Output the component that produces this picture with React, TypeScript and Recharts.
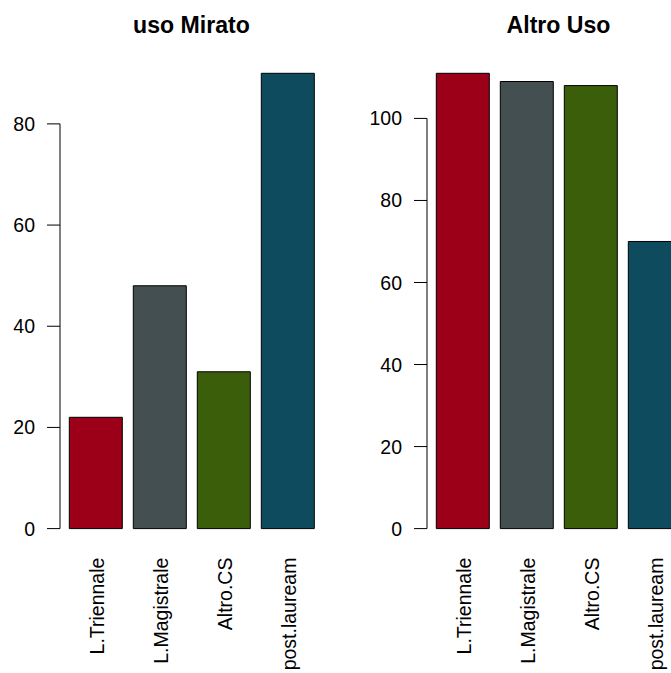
import { BarChart, Bar, XAxis, YAxis, Cell } from 'recharts'

const categories = ['L.Triennale', 'L.Magistrale', 'Altro.CS', 'post.lauream']
const usoMirato = [22, 48, 31, 90]
const altroUso = [111, 109, 108, 70]
const usoMiratoTicks = [0, 20, 40, 60, 80]
const altroUsoTicks = [0, 20, 40, 60, 80, 100]
const barColors = ['#9C0018', '#444F51', '#3B5E0B', '#0F4B5E']

const FONT = '"Liberation Sans", Arial, Helvetica, sans-serif'
const CHART_W = 335
const CHART_H = 673
const TOP = 73.3
const X_AXIS_H = 144.4
const PLOT_BOTTOM = CHART_H - X_AXIS_H
const AXIS_GAP = 4
const FS = 19.5

const buildRows = (values: number[]) =>
  categories.map((name, i) => ({ name, value: values[i] }))

const YTick = (props: any) => {
  const { x, y, payload, lastTick } = props
  const ax = x - AXIS_GAP
  return (
    <g>
      <line x1={ax - 13} y1={y} x2={ax} y2={y} stroke="#000" strokeWidth={1} />
      {payload.value === lastTick && (
        <line x1={ax} y1={y} x2={ax} y2={PLOT_BOTTOM} stroke="#000" strokeWidth={1} />
      )}
      <text x={ax - 25} y={y} dy={FS * 0.36} textAnchor="end" fontSize={FS} fontFamily={FONT} fill="#000">
        {payload.value}
      </text>
    </g>
  )
}

const XTick = (props: any) => {
  const { x, y, payload } = props
  return (
    <text
      transform={`translate(${x + 8}, ${y + 29}) rotate(-90)`}
      textAnchor="end"
      fontSize={FS}
      fontFamily={FONT}
      fill="#000"
    >
      {payload.value}
    </text>
  )
}

type PanelProps = {
  title: string
  values: number[]
  ticks: number[]
  left: number
}

const Panel = ({ title, values, ticks, left }: PanelProps) => {
  const data = buildRows(values)
  const max = Math.max(...values)
  const lastTick = ticks[ticks.length - 1]
  return (
    <div style={{ position: 'absolute', left, top: 0, width: CHART_W, height: CHART_H }}>
      <BarChart
        width={CHART_W}
        height={CHART_H}
        data={data}
        margin={{ top: TOP, right: 15, bottom: 0, left: 0 }}
        barCategoryGap={5.3}
      >
        <XAxis
          dataKey="name"
          type="category"
          height={X_AXIS_H}
          axisLine={false}
          tickLine={false}
          tickSize={0}
          tickMargin={0}
          interval={0}
          tick={(p: any) => <XTick {...p} />}
        />
        <YAxis
          type="number"
          width={64}
          domain={[0, max]}
          ticks={ticks}
          axisLine={false}
          tickLine={false}
          tickSize={0}
          tickMargin={0}
          interval={0}
          tick={(p: any) => <YTick {...p} lastTick={lastTick} />}
        />
        <Bar dataKey="value" stroke="#000" strokeWidth={1} isAnimationActive={false}>
          {data.map((d, i) => (
            <Cell key={d.name} fill={barColors[i]} />
          ))}
        </Bar>
      </BarChart>
      <svg style={{ position: 'absolute', left: 0, top: 0 }} width={CHART_W} height={45}>
        <text x={191.5} y={32.7} textAnchor="middle" fontSize={23.1} fontWeight="bold" fontFamily={FONT} fill="#000">
          {title}
        </text>
      </svg>
    </div>
  )
}

export default function App() {
  return (
    <div
      style={{
        position: 'fixed',
        left: 0,
        top: 0,
        width: 671,
        height: 673,
        overflow: 'hidden',
        background: '#fff',
      }}
    >
      <Panel title="uso Mirato" values={usoMirato} ticks={usoMiratoTicks} left={0} />
      <Panel title="Altro Uso" values={altroUso} ticks={altroUsoTicks} left={366.7} />
    </div>
  )
}
